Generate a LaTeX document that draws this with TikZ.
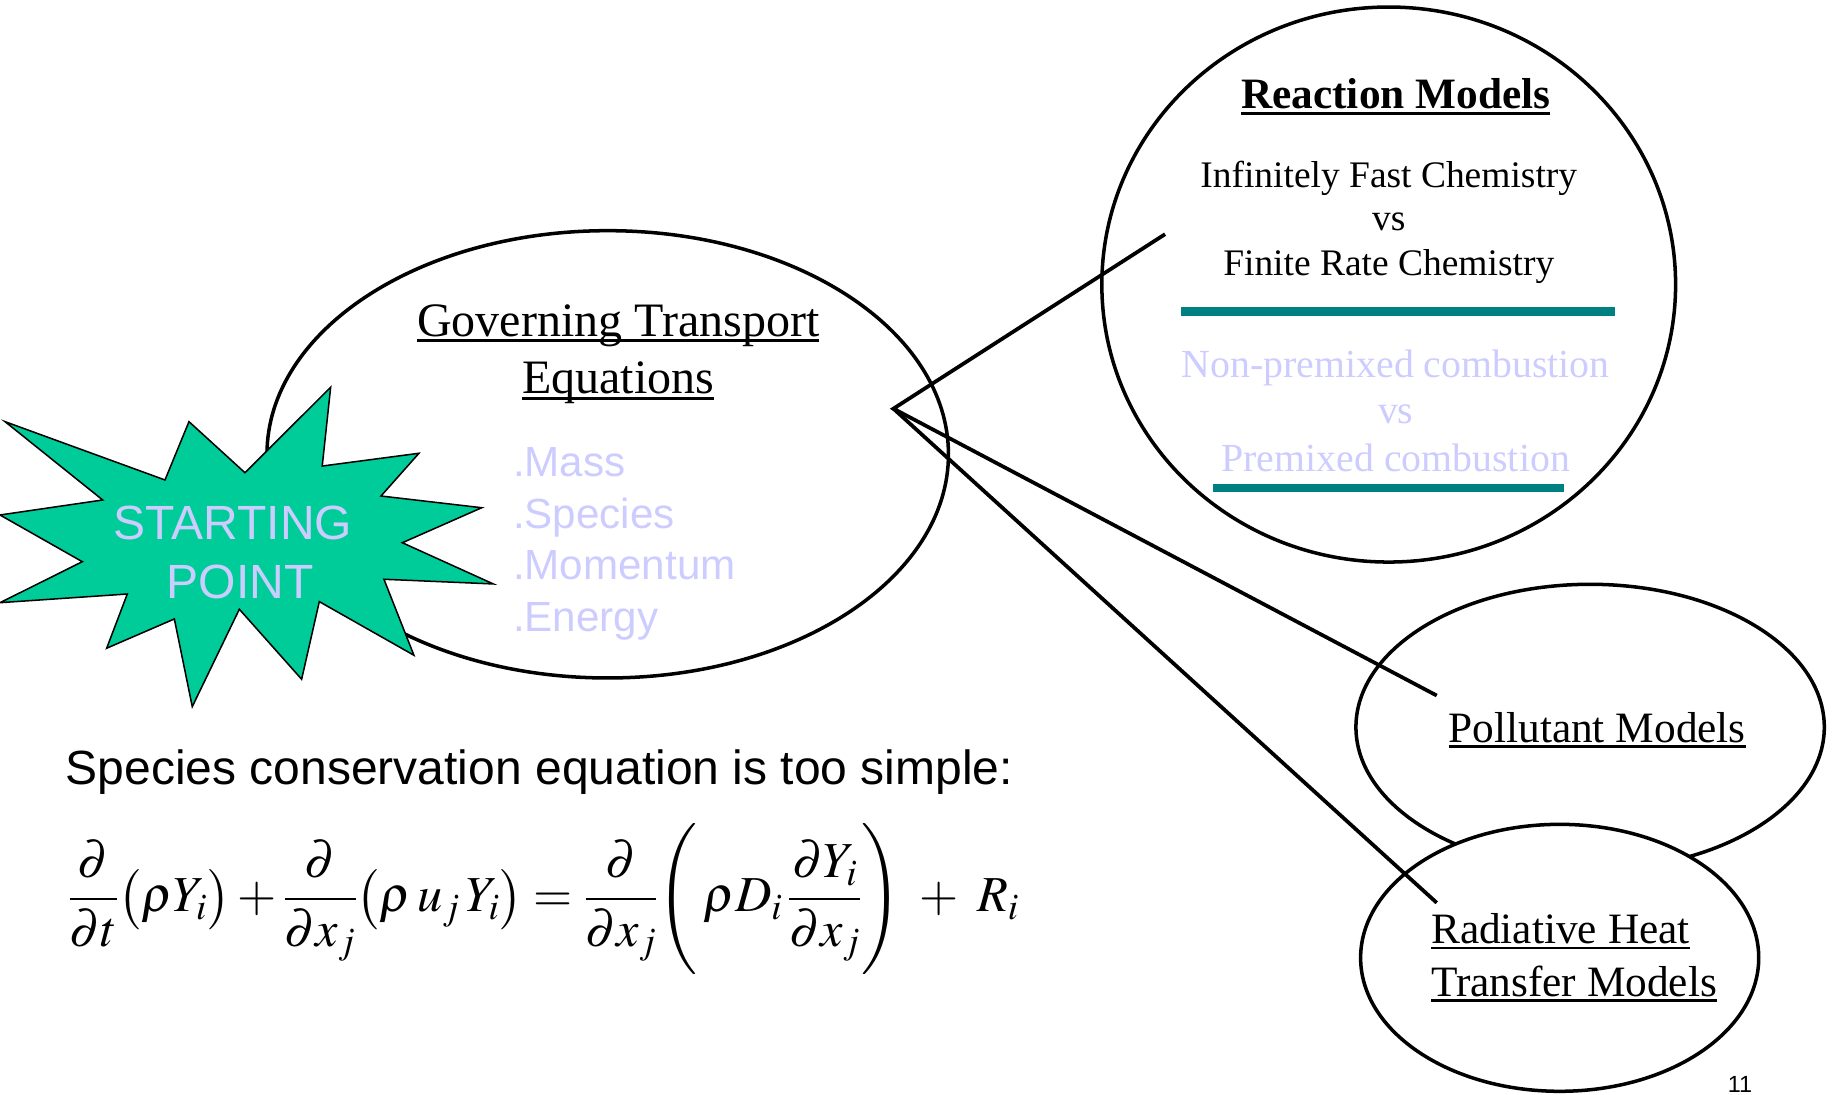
\documentclass[tikz,border=0pt]{standalone}
\usepackage{amsmath}
\usepackage{mathptmx}
\usepackage{fontspec}
\setmainfont{Liberation Serif}
\newfontfamily\arialfont{Liberation Sans}
\usetikzlibrary{shapes.geometric}
\definecolor{lavender}{HTML}{CCCCFF}
\definecolor{burstgreen}{HTML}{00CC99}
\definecolor{barteal}{HTML}{008080}
\newsavebox\undlbox
\newcommand{\undl}[1]{\sbox\undlbox{#1}\rlap{\rule[-.13em]{\wd\undlbox}{.065em}}\usebox\undlbox}
\newcommand{\fsz}[1]{\fontsize{#1}{#1}\selectfont}
\begin{document}
\begin{tikzpicture}[x=1pt,y=-1pt,
  bubble/.style={ellipse,draw,line width=3pt,inner sep=0pt},
  link/.style={line width=3.2pt},
  txt/.style={anchor=base,inner sep=0pt},
  tealbar/.style={barteal,line width=7pt}]
\useasboundingbox (0,0) rectangle (1568,935);
% governing equations
\node[bubble,minimum width=582,minimum height=382] (gov) at (519,388) {};
\node[txt,font=\fsz{41}] (govtitle) at (528,287) {\undl{Governing Transport}};
\node[txt,font=\fsz{41}] (goveq) at (528,336) {\undl{Equations}};
\node[txt,anchor=base west,font=\arialfont\fsz{36},text=lavender] (mass) at (438,407) {.Mass};
\node[txt,anchor=base west,font=\arialfont\fsz{36},text=lavender] (species) at (438,451) {.Species};
\node[txt,anchor=base west,font=\arialfont\fsz{36},text=lavender] (momentum) at (438,495) {.Momentum};
\node[txt,anchor=base west,font=\arialfont\fsz{36},text=lavender] (energy) at (438,539) {.Energy};
% reaction models
\node[bubble,minimum width=490,minimum height=474] (react) at (1186,243) {};
\node[txt,font=\bfseries\fsz{37}] (reacttitle) at (1192,93) {\undl{Reaction Models}};
\node[txt,font=\fsz{32}] (fast) at (1186,160) {Infinitely Fast Chemistry};
\node[txt,font=\fsz{32}] (vsa) at (1186,197) {vs};
\node[txt,font=\fsz{32}] (finite) at (1186,235) {Finite Rate Chemistry};
\draw[tealbar] (1009,266) -- (1379,266);
\node[txt,font=\fsz{34},text=lavender] (nonpre) at (1192,322) {Non-premixed combustion};
\node[txt,font=\fsz{34},text=lavender] (vsb) at (1192,362) {vs};
\node[txt,font=\fsz{34},text=lavender] (pre) at (1192,403) {Premixed combustion};
\draw[tealbar] (1036,417) -- (1336,417);
% pollutant and radiation
\node[bubble,fill=white,minimum width=400,minimum height=244] (poll) at (1358,621) {};
\node[txt,font=\fsz{37}] (polltext) at (1364,634) {\undl{Pollutant Models}};
\node[bubble,fill=white,minimum width=340,minimum height=228] (rad) at (1332,818) {};
\node[txt,anchor=base west,font=\fsz{37}] (radtext) at (1222,806) {\undl{Radiative Heat}};
\node[txt,anchor=base west,font=\fsz{37}] (radtextb) at (1222,851) {\undl{Transfer Models}};
% connectors
\coordinate (hub) at (763,349);
\coordinate (reactend) at (995,200);
\coordinate (pollend) at (1227,594);
\coordinate (radend) at (1227,771);
\draw[link] (reactend) -- (hub) -- (pollend);
\draw[link] (hub) -- (radend);
% starting point
\draw[fill=burstgreen,line width=1.3pt] (4.3,360.1) -- (140.9,409.9) -- (161.4,360.1) -- (209.2,403.7)
  -- (282.4,330.7) -- (275.2,398) -- (357.8,387.1) -- (325.4,423.6) -- (411.4,433.6)
  -- (343.6,463.5) -- (421.3,498.7) -- (327.9,494.7) -- (353.5,559.6) -- (272.7,513.8)
  -- (257.6,580.1) -- (204.4,520.3) -- (164.2,603.5) -- (148.9,528.6) -- (91.1,553.6)
  -- (108.7,507.3) -- (0,514.7) -- (70.3,479.7) -- (0,439.8) -- (87.7,427) -- cycle;
\node[txt,font=\arialfont\fsz{41},text=lavender] (start) at (199,461) {STARTING};
\node[txt,font=\arialfont\fsz{41},text=lavender] (point) at (205,511) {POINT};
% species equation
\node[txt,anchor=base west,font=\arialfont\fsz{41}] (remark) at (56,670) {Species conservation equation is too simple:};
\node[anchor=west,inner sep=0pt,font=\fsz{43}] (eqn) at (58,768)
  {$\dfrac{\partial}{\partial t}\bigl(\rho Y_i\bigr)+\dfrac{\partial}{\partial x_j}\bigl(\rho\,u_j\,Y_i\bigr)=\dfrac{\partial}{\partial x_j}\Biggl(\,\rho D_i\,\dfrac{\partial Y_i}{\partial x_j}\Biggr)\;+\;R_i$};
\node[txt,font=\arialfont\fsz{20}] (page) at (1486,933) {11};
\end{tikzpicture}
\end{document}
